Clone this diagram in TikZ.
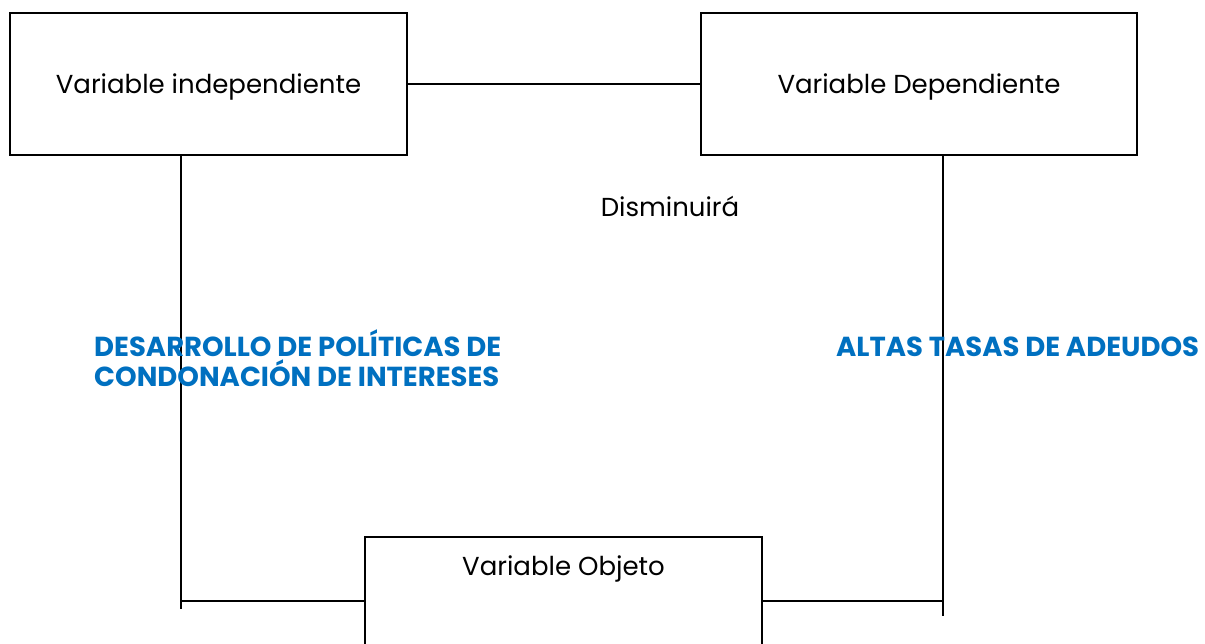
\documentclass[tikz,border=0pt]{standalone}
\usepackage{fontspec}
\setmainfont{Poppins}
\usepackage{tikz}
\usetikzlibrary{positioning}

\definecolor{azul}{HTML}{0070C0}

\begin{document}
\begin{tikzpicture}[x=1pt,y=-1pt,
    caja/.style={rectangle,draw,line width=1.5pt,inner sep=0pt},
    linea/.style={line width=1.5pt},
    rotulo/.style={font=\fontsize{26}{30}\selectfont},
    titulo/.style={font=\bfseries\fontsize{27.5}{30}\selectfont,text=azul,align=left,inner sep=0pt}]
        \useasboundingbox (0,0) rectangle (1205,643);
        \clip (0,0) rectangle (1205,643);

        \node [caja,minimum width=397pt,minimum height=142pt] (indep) at (208.5,84) {};
        \node [caja,minimum width=436pt,minimum height=142pt] (dep) at (919,84) {};
        \node [caja,minimum width=397pt,minimum height=142pt] (objeto) at (563.5,608) {};

        \node [rotulo,anchor=base] (tindep) at (208.5,93) {Variable independiente};
        \node [rotulo,anchor=base] (tdep) at (919,93) {Variable Dependiente};
        \node [rotulo,anchor=base] (tobjeto) at (563.5,575) {Variable Objeto};
        \node [rotulo,anchor=base] (verbo) at (670,216) {Disminuirá};

        \coordinate (lesq) at (181,601);
        \coordinate (lfin) at (181,609);
        \coordinate (resq) at (943,601);
        \coordinate (rfin) at (943,616);

        \draw [linea] (indep.east) -- (dep.west);
        \draw [linea] (indep.south -| lfin) -- (lfin);
        \draw [linea] (lesq) -- (lesq -| objeto.west);
        \draw [linea] (dep.south -| rfin) -- (rfin);
        \draw [linea] (resq) -- (resq -| objeto.east);

        \node [titulo,anchor=base west] (vindep) at (94,386) {DESARROLLO DE POLÍTICAS DE\\CONDONACIÓN DE INTERESES};
        \node [titulo,anchor=base west] (vdep) at (836,356) {ALTAS TASAS DE ADEUDOS};
    \end{tikzpicture}
\end{document}
